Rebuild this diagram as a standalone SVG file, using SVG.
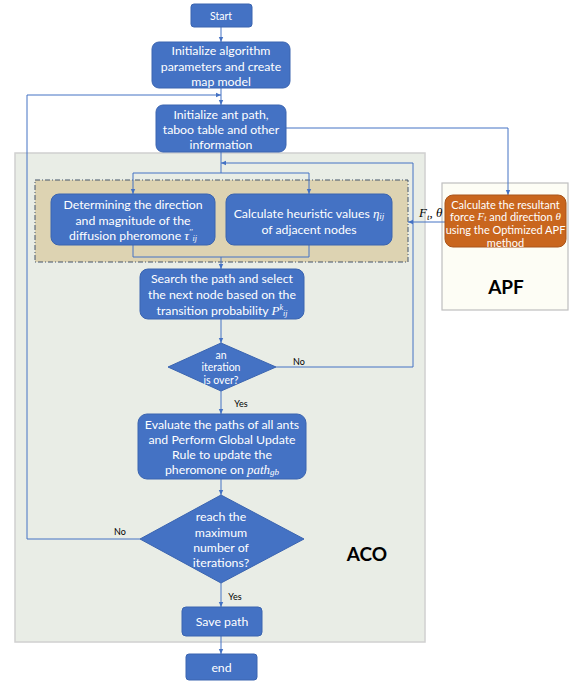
<svg xmlns="http://www.w3.org/2000/svg" width="570" height="681" viewBox="0 0 570 681">
<defs>
<marker id="ah" markerWidth="6" markerHeight="6" refX="5" refY="3" orient="auto" markerUnits="userSpaceOnUse">
<path d="M0,0.8 L5,3 L0,5.2 z" fill="#4472c4"/>
</marker>
<style>
.box{fill:#4472c4;stroke:#3a64b0;stroke-width:1}
.t{font-family:Lato,"Open Sans","Liberation Sans",sans-serif;fill:#ffffff;text-anchor:middle;dominant-baseline:central}
.m{font-family:"Liberation Serif","DejaVu Serif",serif;font-style:italic}
.ln{fill:none;stroke:#4472c4;stroke-width:1}
.lbl{font-family:Lato,"Liberation Sans",sans-serif;fill:#000;font-size:9px;text-anchor:middle;dominant-baseline:central}
.big{font-family:Lato,"Liberation Sans",sans-serif;fill:#000;font-size:19px;font-weight:bold;text-anchor:middle;dominant-baseline:central}
</style>
</defs>
<rect width="570" height="681" fill="#ffffff"/>

<g id="aco-region">
<rect x="15" y="153" width="410" height="489" fill="#e9ede6" stroke="#d0d0d0" stroke-width="1.5"/>
<text class="big" x="367" y="553">ACO</text>
</g>
<g id="apf-region">
<rect x="442" y="183" width="126" height="127" fill="#fdfdf5" stroke="#bfbfbf" stroke-width="1.2"/>
<text class="big" x="506" y="286">APF</text>
</g>
<g id="inner-group">
<rect x="35" y="180" width="373" height="82" fill="#ddd3b2" stroke="#44546a" stroke-width="1" stroke-dasharray="5,2,1,2"/>
</g>

<g id="connectors">
<path class="ln" d="M221,27 V42" marker-end="url(#ah)"/>
<path class="ln" d="M221,88 V105" marker-end="url(#ah)"/>
<path class="ln" d="M140,539 H27 V95 H221" marker-end="url(#ah)"/>
<path class="ln" d="M286,128 H508 V195" marker-end="url(#ah)"/>
<path class="ln" d="M221,152 V173"/>
<path class="ln" d="M133,173 H309"/>
<path class="ln" d="M133,173 V194" marker-end="url(#ah)"/>
<path class="ln" d="M309,173 V194" marker-end="url(#ah)"/>
<path class="ln" d="M276,367 H413 V163 H221" marker-end="url(#ah)"/>
<path class="ln" d="M445,222 H408" marker-end="url(#ah)"/>
<path class="ln" d="M133,245 V257 H309 V245"/>
<path class="ln" d="M221,257 V269" marker-end="url(#ah)"/>
<path class="ln" d="M221,319 V343" marker-end="url(#ah)"/>
<path class="ln" d="M221,391 V414" marker-end="url(#ah)"/>
<path class="ln" d="M221,479 V495" marker-end="url(#ah)"/>
<path class="ln" d="M221,583 V607" marker-end="url(#ah)"/>
<path class="ln" d="M221,636 V654" marker-end="url(#ah)"/>
<text class="lbl" x="299" y="361">No</text>
<text class="lbl" x="241" y="403">Yes</text>
<text class="lbl" x="120" y="531">No</text>
<text class="lbl" x="235" y="596">Yes</text>
<text x="419" y="217" font-family="Liberation Serif,DejaVu Serif,serif" font-size="13" font-style="italic" fill="#000">F<tspan font-size="9" dy="3">t</tspan><tspan dy="-3" font-style="normal">, </tspan>θ</text>
</g>

<g id="start">
<rect class="box" x="191" y="4" width="61" height="23" rx="3"/>
<text class="t" x="221" y="16" font-size="10.5">Start</text>
</g>
<g id="init-params">
<rect class="box" x="152" y="42" width="138" height="46" rx="7"/>
<text class="t" font-size="12.3"><tspan x="221" y="50">Initialize algorithm</tspan><tspan x="221" y="65.5">parameters and create</tspan><tspan x="221" y="80.5">map model</tspan></text>
</g>
<g id="init-ant">
<rect class="box" x="156" y="105" width="130" height="47" rx="7"/>
<text class="t" font-size="12.3"><tspan x="221" y="113.5">Initialize ant path,</tspan><tspan x="221" y="129">taboo table and other</tspan><tspan x="221" y="143.5">information</tspan></text>
</g>
<g id="diffusion">
<rect class="box" x="51" y="194" width="164" height="51" rx="8"/>
<text class="t" font-size="12.3"><tspan x="133" y="204">Determining the direction</tspan><tspan x="133" y="220">and magnitude of the</tspan><tspan x="133" y="235">diffusion pheromone <tspan class="m" font-size="13">τ</tspan><tspan class="m" font-size="8" dy="-3">′′</tspan><tspan class="m" font-size="8" dy="6">ij</tspan></tspan></text>
</g>
<g id="heuristic">
<rect class="box" x="226" y="194" width="166" height="51" rx="8"/>
<text class="t" font-size="12.3"><tspan x="309" y="213">Calculate heuristic values <tspan class="m" font-size="13">η</tspan><tspan class="m" font-size="9" dy="3">ij</tspan></tspan><tspan x="309" y="229">of adjacent nodes</tspan></text>
</g>
<g id="apf-calc">
<rect x="445" y="195" width="121" height="52" rx="8" fill="#c9661e" stroke="#a9541a" stroke-width="1"/>
<text class="t" font-size="11"><tspan x="505.5" y="203.5">Calculate the resultant</tspan><tspan x="505.5" y="216">force <tspan class="m">F</tspan><tspan class="m" font-size="8" dy="2">t</tspan><tspan dy="-2"> and direction </tspan><tspan class="m">θ</tspan></tspan><tspan x="505.5" y="229">using the Optimized APF</tspan><tspan x="505.5" y="242">method</tspan></text>
</g>
<g id="search">
<rect class="box" x="140" y="269" width="164" height="50" rx="8"/>
<text class="t" font-size="12.3"><tspan x="222" y="278">Search the path and select</tspan><tspan x="222" y="294">the next node based on the</tspan><tspan x="222" y="310">transition probability <tspan class="m" font-size="13">P</tspan><tspan class="m" font-size="8" dy="-3">k</tspan><tspan class="m" font-size="8" dy="6">ij</tspan></tspan></text>
</g>
<g id="iteration-over">
<polygon class="box" points="221,343 276,367 221,391 168,367"/>
<text class="t" font-size="10.5"><tspan x="221" y="355">an</tspan><tspan x="221" y="367">iteration</tspan><tspan x="221" y="380">is over?</tspan></text>
</g>
<g id="evaluate">
<rect class="box" x="138" y="414" width="168" height="65" rx="9"/>
<text class="t" font-size="12.3"><tspan x="222" y="424">Evaluate the paths of all ants</tspan><tspan x="222" y="439">and Perform Global Update</tspan><tspan x="222" y="454">Rule to update the</tspan><tspan x="222" y="469">pheromone on <tspan class="m" font-size="13">path</tspan><tspan class="m" font-size="9" dy="3">gb</tspan></tspan></text>
</g>
<g id="max-iterations">
<polygon class="box" points="221,495 304,539 221,583 140,539"/>
<text class="t" font-size="12.3"><tspan x="221" y="516">reach the</tspan><tspan x="221" y="532">maximum</tspan><tspan x="221" y="547">number of</tspan><tspan x="221" y="562">iterations?</tspan></text>
</g>
<g id="save-path">
<rect class="box" x="182" y="607" width="80" height="29" rx="4"/>
<text class="t" x="222" y="621.5" font-size="12.3">Save path</text>
</g>
<g id="end">
<rect class="box" x="186" y="654" width="71" height="26" rx="3"/>
<text class="t" x="221.5" y="667" font-size="12.3">end</text>
</g>
</svg>
